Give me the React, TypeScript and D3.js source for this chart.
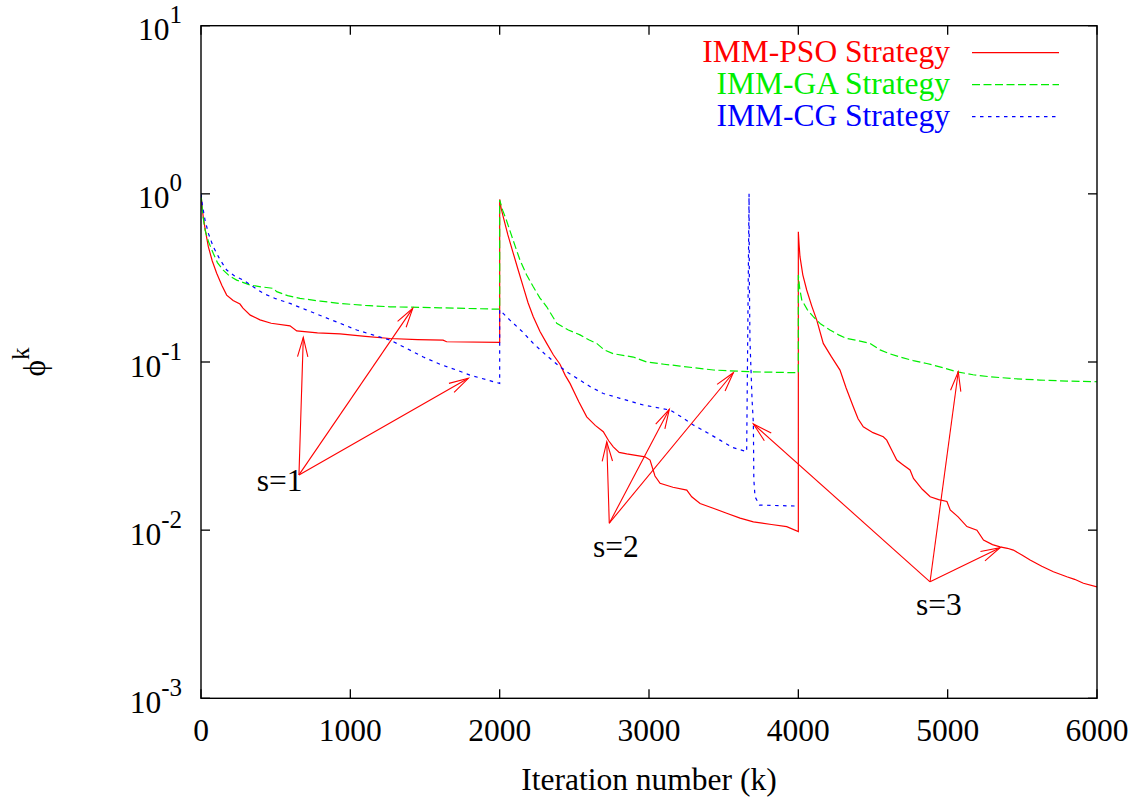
import React from "react";
import * as d3 from "d3";

// Convergence of the normalised objective ϕ^k for three IMM strategies
// (three restarts s=1, s=2, s=3 at k = 0, 2000, 4000).

type Pt = [number, number];

const PSO: Pt[] = [
  [0, 1.0], [8, 0.82], [15, 0.73], [30, 0.6], [49, 0.485], [75, 0.4], [105, 0.337], [140, 0.285],
  [172, 0.25], [215, 0.232], [261, 0.221], [281, 0.209], [330, 0.19], [395, 0.178], [470, 0.17],
  [596, 0.164], [641, 0.153], [780, 0.149], [931, 0.147], [1100, 0.142], [1266, 0.138],
  [1450, 0.136], [1621, 0.135], [1645, 0.132], [2000, 0.131],
  [2000, 0.927], [2010, 0.82], [2024, 0.73], [2055, 0.57], [2091, 0.443], [2125, 0.35],
  [2158, 0.28], [2190, 0.225], [2225, 0.186], [2270, 0.152], [2315, 0.129], [2360, 0.11],
  [2404, 0.097], [2440, 0.083], [2471, 0.0746], [2530, 0.058], [2583, 0.0472], [2640, 0.042],
  [2694, 0.0385], [2730, 0.034], [2761, 0.0313], [2800, 0.029], [2851, 0.0284], [2973, 0.0273],
  [3007, 0.0261], [3040, 0.021], [3074, 0.019], [3160, 0.018], [3253, 0.0173], [3286, 0.0158],
  [3342, 0.0144], [3430, 0.0135], [3520, 0.0126], [3610, 0.0118], [3699, 0.0112],
  [3820, 0.0108], [3922, 0.0105], [4000, 0.0098],
  [4000, 0.595], [4005, 0.5], [4011, 0.423], [4030, 0.33], [4056, 0.268], [4090, 0.215],
  [4123, 0.178], [4167, 0.129], [4220, 0.108], [4279, 0.0895], [4320, 0.07], [4368, 0.0542],
  [4400, 0.046], [4435, 0.0412], [4500, 0.038], [4569, 0.0359], [4592, 0.0343], [4625, 0.03],
  [4659, 0.0261], [4700, 0.0245], [4748, 0.0228], [4771, 0.0203], [4830, 0.0175],
  [4883, 0.0158], [4940, 0.0152], [4995, 0.0148], [5017, 0.0132], [5070, 0.012],
  [5129, 0.0105], [5196, 0.01], [5240, 0.00873], [5300, 0.0082], [5351, 0.00796],
  [5400, 0.0078], [5440, 0.00761], [5500, 0.0071], [5552, 0.00664], [5630, 0.0061],
  [5708, 0.00566], [5798, 0.00528], [5850, 0.0051], [5909, 0.00483], [6000, 0.0046],
];

const GA: Pt[] = [
  [0, 1.0], [12, 0.75], [27, 0.61], [50, 0.52], [82, 0.443], [110, 0.39], [149, 0.352],
  [190, 0.325], [239, 0.307], [328, 0.287], [400, 0.28], [484, 0.274], [507, 0.262],
  [580, 0.248], [663, 0.239], [800, 0.23], [931, 0.223], [1100, 0.217], [1266, 0.213],
  [1600, 0.21], [2000, 0.206],
  [2000, 0.92], [2020, 0.8], [2047, 0.69], [2090, 0.53], [2136, 0.404], [2180, 0.33],
  [2225, 0.28], [2270, 0.24], [2315, 0.213], [2382, 0.17], [2460, 0.155], [2538, 0.145],
  [2600, 0.135], [2650, 0.129], [2700, 0.118], [2761, 0.112], [2895, 0.107], [2984, 0.1],
  [3100, 0.097], [3208, 0.0946], [3431, 0.0896], [3676, 0.0875], [4000, 0.0863],
  [4000, 0.329], [4010, 0.27], [4023, 0.234], [4060, 0.205], [4100, 0.186], [4150, 0.168],
  [4212, 0.155], [4270, 0.145], [4324, 0.138], [4400, 0.134], [4480, 0.129], [4547, 0.118],
  [4610, 0.112], [4681, 0.107], [4770, 0.102], [4860, 0.098], [4960, 0.093], [5061, 0.0875],
  [5170, 0.084], [5284, 0.0817], [5450, 0.0795], [5618, 0.0781], [5800, 0.077],
  [6000, 0.0763],
];

const CG: Pt[] = [
  [0, 1.0], [10, 0.85], [27, 0.698], [50, 0.58], [82, 0.485], [125, 0.41], [172, 0.352],
  [225, 0.325], [283, 0.307], [350, 0.28], [417, 0.256], [500, 0.238], [596, 0.223],
  [700, 0.205], [819, 0.186], [930, 0.17], [1043, 0.155], [1150, 0.145], [1266, 0.135],
  [1380, 0.12], [1489, 0.107], [1600, 0.097], [1712, 0.0895], [1801, 0.0836],
  [2000, 0.0746],
  [2000, 0.204], [2067, 0.178], [2150, 0.152], [2225, 0.129], [2310, 0.11], [2404, 0.0937],
  [2470, 0.085], [2538, 0.078], [2610, 0.071], [2694, 0.065], [2806, 0.0608], [2962, 0.0555],
  [3141, 0.0518], [3220, 0.047], [3297, 0.0422], [3390, 0.038], [3476, 0.0343],
  [3560, 0.031], [3654, 0.0293],
  [3670, 1.0], [3672, 0.3], [3676, 0.135], [3690, 0.06], [3699, 0.043], [3702, 0.02],
  [3710, 0.0158], [3740, 0.0141], [4000, 0.0139],
];

const SERIES_NAMES = ["IMM-PSO Strategy", "IMM-GA Strategy", "IMM-CG Strategy"];
const SERIES_DATA = [PSO, GA, CG];
const SERIES_COLORS = ["#ff0000", "#00ee00", "#0000ff"];
const SERIES_DASH = ["none", "8,3.5", "3.5,4.5"];

// Annotation arrows: origin and the points each one points at.
const RESTART_LABELS = ["s=1", "s=2", "s=3"];
const RESTART_LABEL_AT: Pt[] = [[373, 0.01715], [2625, 0.00695], [4788, 0.00313]];
const RESTART_ORIGIN: Pt[] = [[656, 0.0213], [2734, 0.011], [4882, 0.00493]];
const RESTART_TARGETS: Pt[][] = [
  [[685, 0.14], [1418, 0.2085], [1790, 0.08]],
  [[2717, 0.0335], [3136, 0.0523], [3565, 0.0863]],
  [[3699, 0.0428], [5071, 0.0875], [5351, 0.00786]],
];

const X_TICKS = [0, 1000, 2000, 3000, 4000, 5000, 6000];
const Y_EXPONENTS = [-3, -2, -1, 0, 1];

const W = 1144;
const H = 801;
const L = 201;
const R = 1097;
const T = 25.7;
const B = 698.3;
const FONT = "'Liberation Serif', 'Times New Roman', serif";
const FS = 31.5;
const FS_SUP = 25;

export default function App() {
  const x = d3.scaleLinear().domain([0, 6000]).range([L, R]);
  const y = d3.scaleLog().domain([1e-3, 10]).range([B, T]);
  const line = d3
    .line<Pt>()
    .x((d) => x(d[0]))
    .y((d) => y(d[1]));

  const tickLen = 9;
  const headLen = 20;
  const headAng = (15 * Math.PI) / 180;
  const red = "#ff0000";

  return (
    <svg
      width={W}
      height={H}
      viewBox={`0 0 ${W} ${H}`}
      style={{ position: "fixed", left: 0, top: 0, background: "#fff" }}
      fontFamily={FONT}
    >
      <defs>
        <clipPath id="plotArea">
          <rect x={L} y={T} width={R - L} height={B - T} />
        </clipPath>
      </defs>
      <rect x={0} y={0} width={W} height={H} fill="#fff" />

      {/* ticks on all four sides */}
      {X_TICKS.map((t) => (
        <g key={`xt${t}`}>
          <line x1={x(t)} x2={x(t)} y1={B} y2={B - tickLen} stroke="#000" strokeWidth={1.3} />
          <line x1={x(t)} x2={x(t)} y1={T} y2={T + tickLen} stroke="#000" strokeWidth={1.3} />
          <text x={x(t)} y={B + 43} fontSize={FS} textAnchor="middle" fill="#000">
            {t}
          </text>
        </g>
      ))}
      {Y_EXPONENTS.map((e) => {
        const v = Math.pow(10, e);
        return (
          <g key={`yt${e}`}>
            <line x1={L} x2={L + tickLen} y1={y(v)} y2={y(v)} stroke="#000" strokeWidth={1.3} />
            <line x1={R} x2={R - tickLen} y1={y(v)} y2={y(v)} stroke="#000" strokeWidth={1.3} />
            <text x={182} y={y(v) + 14.5} fontSize={FS} textAnchor="end" fill="#000">
              10
              <tspan fontSize={FS_SUP} dy={-17}>
                {e}
              </tspan>
            </text>
          </g>
        );
      })}

      {/* data curves */}
      <g clipPath="url(#plotArea)" fill="none">
        {SERIES_DATA.map((d, i) => (
          <path
            key={SERIES_NAMES[i]}
            d={line(d) ?? ""}
            stroke={SERIES_COLORS[i]}
            strokeWidth={1.2}
            strokeDasharray={SERIES_DASH[i]}
          />
        ))}
      </g>

      {/* restart annotations */}
      {RESTART_LABELS.map((lab, i) => {
        const [ox, oy] = [x(RESTART_ORIGIN[i][0]), y(RESTART_ORIGIN[i][1])];
        return (
          <g key={lab}>
            {RESTART_TARGETS[i].map((tp, j) => {
              const tx = x(tp[0]);
              const ty = y(tp[1]);
              const a = Math.atan2(oy - ty, ox - tx);
              const b1x = tx + headLen * Math.cos(a + headAng);
              const b1y = ty + headLen * Math.sin(a + headAng);
              const b2x = tx + headLen * Math.cos(a - headAng);
              const b2y = ty + headLen * Math.sin(a - headAng);
              return (
                <g key={j} stroke={red} strokeWidth={1.1} fill="none">
                  <line x1={ox} y1={oy} x2={tx} y2={ty} />
                  <polyline points={`${b1x},${b1y} ${tx},${ty} ${b2x},${b2y}`} />
                </g>
              );
            })}
            <text
              x={x(RESTART_LABEL_AT[i][0])}
              y={y(RESTART_LABEL_AT[i][1])}
              fontSize={FS}
              fill="#000"
            >
              {lab}
            </text>
          </g>
        );
      })}

      {/* frame */}
      <rect x={L} y={T} width={R - L} height={B - T} fill="none" stroke="#000" strokeWidth={1.4} />

      {/* legend */}
      {SERIES_NAMES.map((name, i) => {
        const ly = 52.7 + i * 32;
        return (
          <g key={`lg${i}`}>
            <text x={950} y={ly + 9.5} fontSize={FS} textAnchor="end" fill={SERIES_COLORS[i]}>
              {name}
            </text>
            <line
              x1={972}
              x2={1059}
              y1={ly}
              y2={ly}
              stroke={SERIES_COLORS[i]}
              strokeWidth={1.2}
              strokeDasharray={SERIES_DASH[i]}
            />
          </g>
        );
      })}

      {/* axis titles */}
      <text x={(L + R) / 2} y={790} fontSize={FS} textAnchor="middle" fill="#000">
        Iteration number (k)
      </text>
      <text
        transform={`translate(45,362) rotate(-90)`}
        fontSize={FS}
        textAnchor="middle"
        fill="#000"
      >
        ϕ
        <tspan fontSize={FS_SUP} dy={-16}>
          k
        </tspan>
      </text>
    </svg>
  );
}
